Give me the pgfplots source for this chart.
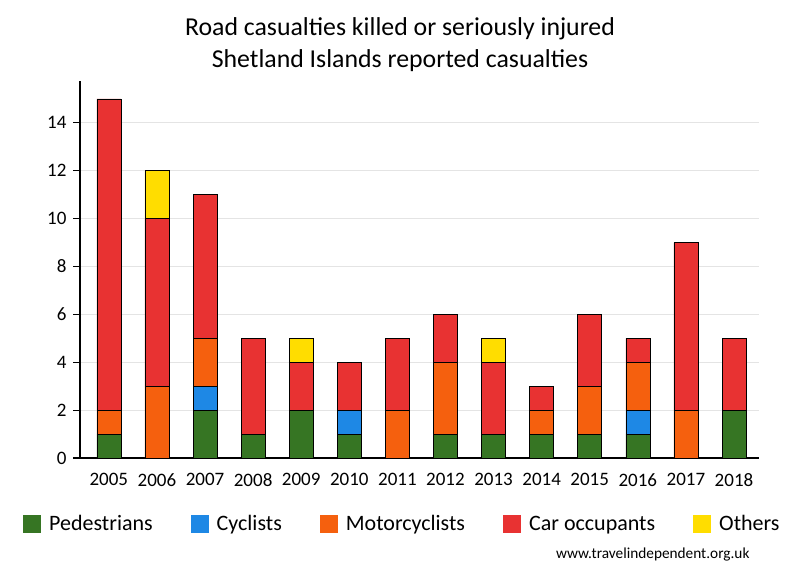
\documentclass[border=0pt]{standalone}
\usepackage{pgfplots}
\pgfplotsset{compat=1.18}
\usepackage{fontspec}
\setmainfont{Carlito}
\definecolor{cPed}{RGB}{54,117,35}
\definecolor{cCyc}{RGB}{30,136,229}
\definecolor{cMot}{RGB}{245,96,14}
\definecolor{cCar}{RGB}{232,50,50}
\definecolor{cOth}{RGB}{255,221,0}
\definecolor{cGrid}{RGB}{228,228,228}
\begin{document}
\begin{tikzpicture}[x=1pt,y=1pt]
\useasboundingbox (0,0) rectangle (800,580);
\node[font=\fontsize{25.8}{30}\selectfont] at (400,551) {Road casualties killed or seriously injured};
\node[font=\fontsize{25.8}{30}\selectfont] at (400,519) {Shetland Islands reported casualties};
\begin{axis}[
  at={(80pt,122pt)}, anchor=south west,
  scale only axis, width=679pt, height=377pt,
  ybar stacked, bar width=24pt,
  xmin=-0.6, xmax=13.52, ymin=0, ymax=15.75,
  xtick={0,...,13},
  xticklabels={2005,2006,2007,2008,2009,2010,2011,2012,2013,2014,2015,2016,2017,2018},
  ytick={0,2,...,14},
  axis x line*=bottom, axis y line*=left,
  axis line style={line width=1.6pt, -},
  x tick style={draw=none},
  y tick style={line width=1.2pt, black},
  tick align=outside, major tick length=7pt,
  ymajorgrids, grid style={cGrid, line width=1.2pt},
  ticklabel style={font=\fontsize{19}{22}\selectfont},
  /pgf/number format/assume math mode=true,
  xticklabel style={yshift=-5pt},
  yticklabel style={xshift=-3pt},
  every axis plot/.append style={draw=black, line width=0.6pt},
  legend columns=5,
  legend style={draw=none, fill=none, at={(-60pt,-66pt)}, anchor=west,
    font=\fontsize{22}{26}\selectfont, column sep=0pt,
    /tikz/every odd column/.append style={column sep=6pt},
    /tikz/every even column/.append style={column sep=36pt}},
  legend image code/.code={\fill[#1,draw=none] (0pt,-9pt) rectangle (18pt,9pt);},
]
\addplot[fill=cPed] coordinates {(0,1)(1,0)(2,2)(3,1)(4,2)(5,1)(6,0)(7,1)(8,1)(9,1)(10,1)(11,1)(12,0)(13,2)};
\addplot[fill=cCyc] coordinates {(0,0)(1,0)(2,1)(3,0)(4,0)(5,1)(6,0)(7,0)(8,0)(9,0)(10,0)(11,1)(12,0)(13,0)};
\addplot[fill=cMot] coordinates {(0,1)(1,3)(2,2)(3,0)(4,0)(5,0)(6,2)(7,3)(8,0)(9,1)(10,2)(11,2)(12,2)(13,0)};
\addplot[fill=cCar] coordinates {(0,13)(1,7)(2,6)(3,4)(4,2)(5,2)(6,3)(7,2)(8,3)(9,1)(10,3)(11,1)(12,7)(13,3)};
\addplot[fill=cOth] coordinates {(0,0)(1,2)(2,0)(3,0)(4,1)(5,0)(6,0)(7,0)(8,1)(9,0)(10,0)(11,0)(12,0)(13,0)};
\legend{Pedestrians,Cyclists,Motorcyclists,Car occupants,Others}
\end{axis}
\node[font=\fontsize{15.3}{18}\selectfont, anchor=east] at (753,25) {www.travelindependent.org.uk};
\end{tikzpicture}
\end{document}
